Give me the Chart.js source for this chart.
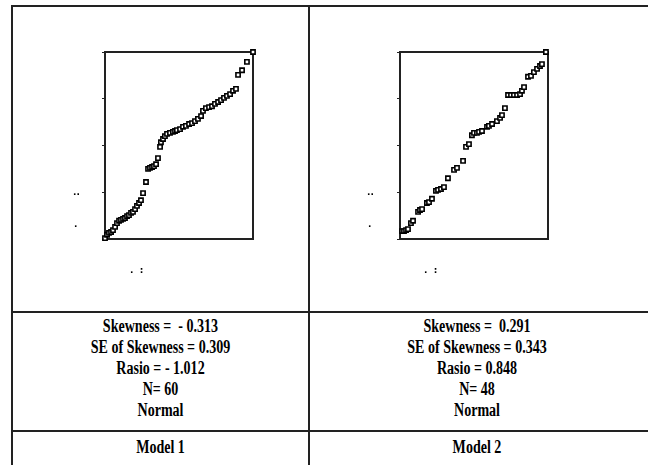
<!DOCTYPE html>
<html>
<head>
<meta charset="utf-8">
<script src="https://cdn.jsdelivr.net/npm/chart.js@4.4.1/dist/chart.umd.min.js"></script>
<style>
  body { margin: 0; background: #fff; width: 648px; height: 465px; position: relative; overflow: hidden; }
  .ln { position: absolute; background: #222; }
  .plot { position: absolute; top: 40px; }
  .cell { position: absolute; text-align: center; font-family: "Liberation Serif", serif; font-weight: bold;
          font-size: 18px; line-height: 21px; color: #000; }
  .cell div { transform: scaleX(0.78); white-space: pre; }
  .dot { position: absolute; font-family: "DejaVu Sans", sans-serif; font-weight: bold; font-size: 9px; line-height: 9px; color: #000; }
</style>
</head>
<body>
<!-- table rules -->
<div class="ln" style="left:11px;top:5px;width:640px;height:2px"></div>
<div class="ln" style="left:11px;top:5px;width:2px;height:470px"></div>
<div class="ln" style="left:308px;top:5px;width:2px;height:470px"></div>
<div class="ln" style="left:11px;top:311px;width:640px;height:2px"></div>
<div class="ln" style="left:11px;top:430px;width:640px;height:2px"></div>

<canvas id="plot1" class="plot" style="left:65px" width="200" height="210"></canvas>
<canvas id="plot2" class="plot" style="left:360px" width="200" height="210"></canvas>

<!-- broken axis labels, as in the original -->
<span class="dot" style="left:73px;top:188px">..</span>
<span class="dot" style="left:74px;top:220px">.</span>
<span class="dot" style="left:130px;top:266px">.&nbsp;&nbsp;:</span>
<span class="dot" style="left:367px;top:188px">..</span>
<span class="dot" style="left:368px;top:220px">.</span>
<span class="dot" style="left:424px;top:266px">.&nbsp;&nbsp;:</span>

<div class="cell" id="stats1" style="left:13px;width:295px;top:316px"></div>
<div class="cell" id="stats2" style="left:310px;width:334px;top:316px"></div>
<div class="cell" id="name1" style="left:13px;width:295px;top:437px"></div>
<div class="cell" id="name2" style="left:310px;width:334px;top:437px"></div>

<script>
// Model 1 : observed value (scaled 0-100) vs expected normal
const obs1 = [0, 1.4, 2.7, 4.1, 5.4, 6.8, 8.1, 9.5, 10.8, 12.2,
  13.5, 14.9, 16.2, 17.6, 18.9, 20.3, 21.6, 23.0, 24.3, 25.7,
  27.7, 29.1, 30.4, 31.8, 33.1, 34.5, 35.8, 37.2, 37.8, 39.2,
  40.5, 41.9, 43.9, 45.9, 47.3, 48.6, 50.7, 52.7, 54.7, 56.8,
  58.8, 60.8, 62.8, 64.9, 66.2, 68.2, 70.3, 72.3, 74.3, 76.4,
  78.4, 80.4, 82.4, 84.5, 86.5, 88.5, 89.9, 92.6, 95.9, 100];
const exp1 = [-1.98, -1.91, -1.87, -1.85, -1.81, -1.74, -1.66, -1.61, -1.59, -1.57,
  -1.55, -1.51, -1.49, -1.44, -1.42, -1.36, -1.29, -1.23, -1.17, -1.02,
  -0.78, -0.50, -0.48, -0.46, -0.44, -0.40, -0.27, -0.03, 0.07, 0.14,
  0.20, 0.25, 0.27, 0.29, 0.31, 0.33, 0.35, 0.40, 0.42, 0.46,
  0.48, 0.52, 0.57, 0.63, 0.74, 0.80, 0.82, 0.84, 0.89, 0.93,
  0.97, 1.02, 1.06, 1.10, 1.17, 1.21, 1.51, 1.61, 1.79, 2.00];

// Model 2
const obs2 = [1.4, 2.7, 4.1, 5.4, 7.4, 8.8, 12.2, 13.5, 14.9, 18.2,
  19.6, 21.6, 24.3, 25.7, 27.7, 29.7, 32.4, 36.5, 38.5, 42.6,
  44.6, 46.6, 48.6, 50.0, 52.0, 53.4, 55.4, 58.8, 60.1, 62.2,
  65.5, 67.6, 68.9, 70.9, 73.0, 75.0, 77.0, 79.1, 81.1, 82.4,
  83.8, 86.5, 88.5, 90.5, 92.6, 94.6, 95.9, 98.6];
const exp2 = [-1.83, -1.83, -1.81, -1.79, -1.66, -1.61, -1.42, -1.38, -1.36, -1.23,
  -1.21, -1.14, -0.97, -0.95, -0.93, -0.89, -0.70, -0.52, -0.48, -0.33,
  -0.03, 0.03, 0.22, 0.27, 0.27, 0.29, 0.31, 0.40, 0.42, 0.46,
  0.52, 0.59, 0.65, 0.80, 1.08, 1.08, 1.08, 1.08, 1.10, 1.17,
  1.25, 1.47, 1.49, 1.57, 1.64, 1.70, 1.74, 2.00];

const stats1 = ['Skewness =  - 0.313', 'SE of Skewness = 0.309', 'Rasio = - 1.012', 'N= 60', 'Normal'];
const stats2 = ['Skewness =  0.291', 'SE of Skewness = 0.343', 'Rasio = 0.848', 'N= 48', 'Normal'];
const modelNames = ['Model 1', 'Model 2'];

function fillCell(id, lines) {
  const el = document.getElementById(id);
  lines.forEach(t => {
    const d = document.createElement('div');
    d.textContent = t;
    el.appendChild(d);
  });
}
fillCell('stats1', stats1);
fillCell('stats2', stats2);
fillCell('name1', [modelNames[0]]);
fillCell('name2', [modelNames[1]]);

// box around the plot area
const framePlugin = {
  id: 'frame',
  beforeDatasetsDraw(chart) {
    const a = chart.chartArea, ctx = chart.ctx;
    ctx.save();
    ctx.strokeStyle = '#222';
    ctx.lineWidth = 2;
    ctx.strokeRect(a.left, a.top, a.right - a.left, a.bottom - a.top);
    ctx.restore();
  }
};

function qqPlot(canvasId, xs, ys) {
  const pts = xs.map((x, i) => ({ x: x, y: ys[i] }));
  return new Chart(document.getElementById(canvasId), {
    type: 'scatter',
    data: {
      datasets: [{
        data: pts,
        pointStyle: 'rect',
        pointRadius: 3,
        borderWidth: 1.6,
        borderColor: '#000',
        backgroundColor: '#fff',
        clip: false
      }]
    },
    options: {
      responsive: false,
      animation: false,
      devicePixelRatio: 1,
      layout: { padding: { top: 12, right: 12, left: 0, bottom: 0 } },
      plugins: { legend: { display: false }, tooltip: { enabled: false } },
      scales: {
        x: {
          min: 0, max: 100,
          ticks: { display: false },
          grid: { display: false },
          border: { display: false },
          afterFit: s => { s.height = 11; }
        },
        y: {
          min: -2, max: 2,
          ticks: { display: false, stepSize: 1 },
          grid: { drawOnChartArea: false, drawTicks: true, tickLength: 3, color: '#222', lineWidth: 1 },
          border: { display: false },
          afterFit: s => { s.width = 40; }
        }
      }
    },
    plugins: [framePlugin]
  });
}

qqPlot('plot1', obs1, exp1);
qqPlot('plot2', obs2, exp2);
</script>
</body>
</html>
